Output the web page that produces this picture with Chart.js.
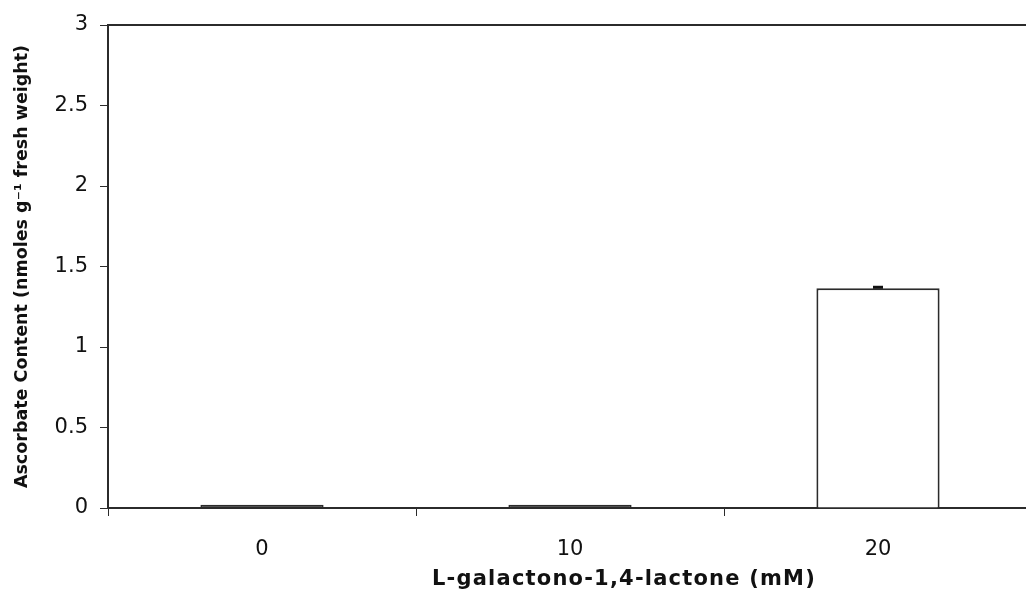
<!DOCTYPE html>
<html>
<head>
<meta charset="utf-8">
<script src="https://cdn.jsdelivr.net/npm/chart.js@4/dist/chart.umd.min.js"></script>
<style>
  html, body { margin: 0; padding: 0; background: #fff; overflow: hidden; }
  #wrap { position: relative; width: 1040px; height: 603px; }
</style>
</head>
<body>
<div id="wrap"><canvas id="chart"></canvas></div>
<script>
const categories = ['0', '10', '20'];
const values = [0.02, 0.02, 1.365];
const errors = [0, 0, 0.006];
const yTicks = [0, 0.5, 1, 1.5, 2, 2.5, 3];
const xTitle = 'L-galactono-1,4-lactone (mM)';
const yTitle = 'Ascorbate Content (nmoles g\u207B\u00B9 fresh weight)';

const ink = '#2b2b2b';

// small error caps on top of each bar
const errorBars = {
  id: 'errorBars',
  afterDatasetsDraw(chart) {
    const meta = chart.getDatasetMeta(0);
    const y = chart.scales.y;
    const ctx = chart.ctx;
    ctx.save();
    ctx.strokeStyle = '#111';
    ctx.lineWidth = 3;
    meta.data.forEach((bar, i) => {
      if (!errors[i]) return;
      const top = y.getPixelForValue(values[i] + errors[i]);
      ctx.beginPath();
      ctx.moveTo(bar.x - 5, top); ctx.lineTo(bar.x + 5, top);
      ctx.stroke();
    });
    ctx.restore();
  }
};

// x title is spaced out wider than canvas text normally is
const spacedXTitle = {
  id: 'spacedXTitle',
  afterDraw(chart) {
    const ctx = chart.ctx;
    const x = chart.scales.x;
    ctx.save();
    ctx.font = 'bold 21px "DejaVu Sans"';
    ctx.letterSpacing = '1.2px';
    ctx.fillStyle = '#111';
    ctx.textAlign = 'center';
    ctx.textBaseline = 'middle';
    // sits a bit right of the middle category, as in the source figure
    ctx.fillText(xTitle, (x.getPixelForValue(1) + x.getPixelForValue(2)) / 2 - 100, 580);
    ctx.restore();
  }
};

new Chart(document.getElementById('chart'), {
  type: 'bar',
  data: {
    labels: categories,
    datasets: [{
      data: values,
      // near-zero bars collapse into a solid dark strip in the original
      backgroundColor: (c) => (c.raw < 0.05 ? ink : '#ffffff'),
      borderColor: ink,
      borderWidth: 2,
      barPercentage: 0.4,
      categoryPercentage: 1.0,
    }],
  },
  options: {
    responsive: true,
    maintainAspectRatio: false,
    animation: false,
    layout: { padding: { top: 25, left: 0, right: 8, bottom: 0 } },
    plugins: { legend: { display: false }, tooltip: { enabled: false } },
    scales: {
      x: {
        offset: true,
        grid: { drawOnChartArea: false, drawTicks: true, tickLength: 8, color: ink, offset: true },
        border: { display: true, color: ink, width: 2 },
        ticks: { color: '#111', font: { family: 'DejaVu Sans', size: 21 }, padding: 21 },
        afterFit: (s) => { s.height = 95; },
      },
      x2: {
        position: 'top',
        type: 'category',
        labels: categories,
        grid: { display: false },
        border: { display: true, color: ink, width: 2 },
        ticks: { display: false },
        afterFit: (s) => { s.height = 0; },
      },
      y: {
        min: 0,
        max: 3,
        afterBuildTicks: (s) => { s.ticks = yTicks.map((v) => ({ value: v })); },
        grid: { drawOnChartArea: false, drawTicks: true, tickLength: 8, color: ink },
        border: { display: true, color: ink, width: 2 },
        ticks: {
          color: '#111',
          font: { family: 'DejaVu Sans', size: 21 },
          padding: 12,
          callback: (v) => String(v),
        },
        title: {
          display: true,
          text: yTitle,
          color: '#111',
          font: { family: 'DejaVu Sans', size: 17.5, weight: 'bold' },
          padding: { top: 12, bottom: 0 },
        },
        afterFit: (s) => { s.width = 108; },
      },
    },
  },
  plugins: [errorBars, spacedXTitle],
});
</script>
</body>
</html>
